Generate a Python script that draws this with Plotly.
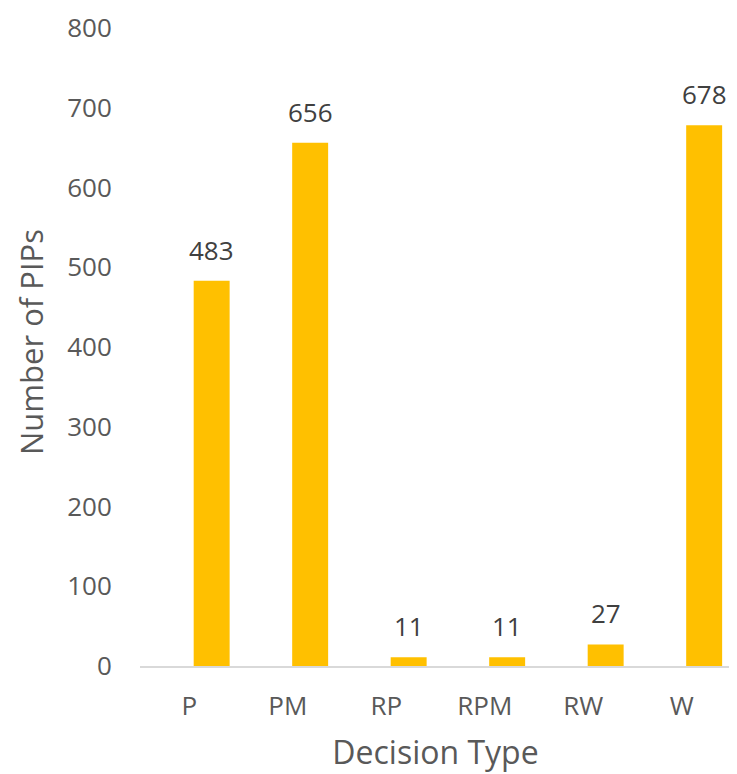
import plotly.graph_objects as go

categories = ["P", "PM", "RP", "RPM", "RW", "W"]
values = [483, 656, 11, 11, 27, 678]
y_ticks = [0, 100, 200, 300, 400, 500, 600, 700, 800]

BAR_COLOR = "#FFC000"
TICK_COLOR = "#595959"
LABEL_COLOR = "#404040"
FONT = "Open Sans"

fig = go.Figure()
fig.add_trace(go.Bar(
    x=categories,
    y=values,
    marker=dict(color=BAR_COLOR, line=dict(width=0)),
    width=0.365,
    offset=0.045,
    hoverinfo="x+y",
))

for c, v in zip(categories, values):
    fig.add_annotation(
        x=c, y=v, xref="x", yref="y",
        text=str(v), showarrow=False,
        xshift=22.5, yshift=31, yanchor="middle",
        font=dict(family=FONT, size=26, color=LABEL_COLOR),
    )

# y-axis title
fig.add_annotation(
    text="Number of PIPs", textangle=-90,
    xref="paper", yref="paper", x=0, y=0.5,
    xanchor="center", yanchor="middle",
    xshift=-109, yshift=5, showarrow=False,
    font=dict(family=FONT, size=31, color=TICK_COLOR),
)

fig.update_layout(
    width=729, height=766,
    margin=dict(l=131.5, r=5.5, t=20, b=108),
    plot_bgcolor="white", paper_bgcolor="white",
    showlegend=False,
    font=dict(family=FONT, color=TICK_COLOR),
    xaxis=dict(
        type="category",
        range=[-0.5, 5.5],
        showgrid=False,
        showline=True, linecolor="#D9D9D9", linewidth=2,
        ticks="outside", ticklen=16, tickcolor="rgba(0,0,0,0)",
        tickfont=dict(family=FONT, size=26, color=TICK_COLOR),
        title=dict(text="Decision Type", font=dict(family=FONT, size=32, color=TICK_COLOR), standoff=19),
        automargin=False,
    ),
    yaxis=dict(
        range=[0, 800],
        tickvals=y_ticks,
        ticklabeloverflow="allow",
        showgrid=False, zeroline=False, showline=False,
        ticks="outside", ticklen=22, tickcolor="rgba(0,0,0,0)",
        tickfont=dict(family=FONT, size=26, color=TICK_COLOR),
        automargin=False,
    ),
)

fig.write_html("out.html")
